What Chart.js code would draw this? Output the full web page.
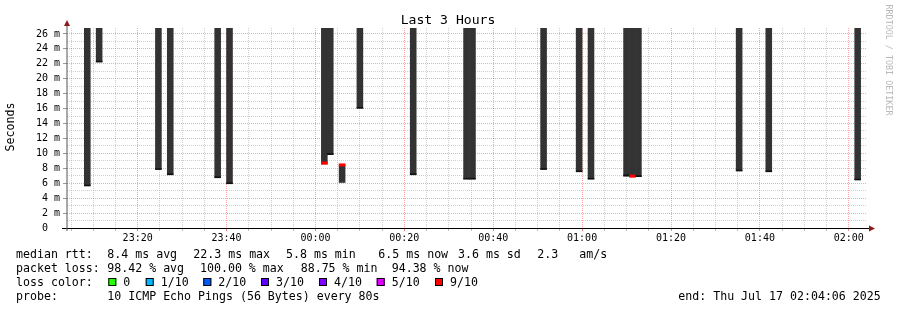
<!DOCTYPE html>
<html>
<head>
<meta charset="utf-8">
<script src="https://cdn.jsdelivr.net/npm/chart.js@4/dist/chart.umd.min.js"></script>
<style>
html,body{margin:0;padding:0;background:#ffffff;}
canvas{display:block;}
</style>
</head>
<body>
<canvas id="c" width="897" height="310" style="width:897px;height:310px"></canvas>
<script>
// ---- data (time in minutes after 23:00, probe step = 80 s) ----
const stepMinutes = 4 / 3;
const startMinute = 4.1;     // 23:04:06
const endMinute = 184.1;     // 02:04:06
const steps     = [6, 8, 18, 20, 28, 30, 46, 47, 49, 52, 61, 70, 71, 83, 89, 91, 97, 98, 99, 116, 121, 136];
const smokeLow  = [5.7, 22.3, 7.9, 7.2, 6.8, 6.0, 8.6, 9.9, 6.1, 16.1, 7.2, 6.6, 6.6, 7.9, 7.6, 6.6, 6.95, 6.95, 6.95, 7.7, 7.6, 6.5];
const smokeHigh = [30, 30, 30, 30, 30, 30, 30, 30, 8.45, 30, 30, 30, 30, 30, 30, 30, 30, 30, 30, 30, 30, 30];
const medianRtt = [5.7, 22.3, 7.9, 7.2, 6.8, 6.0, 8.7, 9.9, 8.45, 16.1, 7.2, 6.6, 6.6, 7.9, 7.6, 6.6, 7.05, 6.95, 6.95, 7.7, 7.6, 6.5];
const lossTenths = [10, 10, 10, 10, 10, 10, 9, 10, 9, 10, 10, 10, 10, 10, 10, 10, 10, 9, 10, 10, 10, 10];
const majorTickMinutes = [20, 40, 60, 80, 100, 120, 140, 160, 180];
const xTickLabels = ['23:20', '23:40', '00:00', '00:20', '00:40', '01:00', '01:20', '01:40', '02:00'];
const yMax = 26.8;
const lossLegendLabels = ['0', '1/10', '2/10', '3/10', '4/10', '5/10', '9/10'];
const lossLegendColors = ['#26ff00', '#00b8ff', '#0059ff', '#5e00ff', '#7e00ff', '#dd00ff', '#ff0000'];

// ---- derived ----
const xGrid = [];
for (let m = 5; m <= 180; m += 5) xGrid.push(m);
const yGrid = [];
for (let v = 0; v <= 26; v++) yGrid.push(v);

const center = k => (k + 0.5) * stepMinutes;
const smokeData = steps.map((k, i) => ({ x: center(k), y: [smokeLow[i], smokeHigh[i]] }));
const medianData = steps.map((k, i) => {
  const h = lossTenths[i] === 9 ? 0.16 : 0.07;
  return { x: center(k), y: [medianRtt[i] - h, medianRtt[i] + h] };
});
const medianColors = lossTenths.map(l => l === 9 ? '#ff0000' : '#111111');

const MONO = "'DejaVu Sans Mono', 'Liberation Mono', monospace";
const RED_GRID = 'rgba(255,0,0,0.36)';
const GRAY_GRID = 'rgba(160,160,160,0.5)';

const overlay = {
  id: 'rrdOverlay',
  afterDraw(chart) {
    const ctx = chart.ctx;
    const a = chart.chartArea;
    ctx.save();
    // axis lines
    ctx.strokeStyle = '#000';
    ctx.lineWidth = 1;
    ctx.beginPath();
    ctx.moveTo(a.left - 5, a.bottom + 0.5);
    ctx.lineTo(a.right + 3, a.bottom + 0.5);
    ctx.stroke();
    ctx.strokeStyle = '#555';
    ctx.beginPath();
    ctx.moveTo(a.left, a.bottom + 3);
    ctx.lineTo(a.left, a.top - 3);
    ctx.stroke();
    // arrows
    ctx.fillStyle = '#8b1a1a';
    ctx.beginPath();
    ctx.moveTo(a.left - 3, a.top - 2);
    ctx.lineTo(a.left + 3, a.top - 2);
    ctx.lineTo(a.left, a.top - 8);
    ctx.closePath();
    ctx.fill();
    ctx.beginPath();
    ctx.moveTo(a.right + 2, a.bottom - 2.5);
    ctx.lineTo(a.right + 2, a.bottom + 3.5);
    ctx.lineTo(a.right + 8, a.bottom + 0.5);
    ctx.closePath();
    ctx.fill();

    // title
    ctx.fillStyle = '#000';
    ctx.font = '13.1px ' + MONO;
    ctx.textAlign = 'center';
    ctx.textBaseline = 'alphabetic';
    ctx.fillText('Last 3 Hours', 448, 24);

    // y axis title
    ctx.save();
    ctx.translate(11, 127);
    ctx.rotate(-Math.PI / 2);
    ctx.font = '11.6px ' + MONO;
    ctx.textAlign = 'center';
    ctx.textBaseline = 'middle';
    ctx.fillText('Seconds', 0, 0);
    ctx.restore();

    // watermark
    ctx.save();
    ctx.translate(888, 60);
    ctx.rotate(Math.PI / 2);
    ctx.font = '8.4px ' + MONO;
    ctx.fillStyle = '#b8b8b8';
    ctx.textAlign = 'center';
    ctx.textBaseline = 'middle';
    ctx.fillText('RRDTOOL / TOBI OETIKER', 0, 0);
    ctx.restore();

    // legend lines
    ctx.font = '11.6px ' + MONO;
    ctx.textAlign = 'left';
    ctx.textBaseline = 'alphabetic';
    ctx.fillStyle = '#000';
    const t = (s, x, y) => ctx.fillText(s, x, y);
    t('median rtt:', 16, 258);
    t('8.4 ms avg', 107.3, 258);
    t('22.3 ms max', 193.3, 258);
    t('5.8 ms min', 286, 258);
    t('6.5 ms now', 378.3, 258);
    t('3.6 ms sd', 458, 258);
    t('2.3', 537.3, 258);
    t('am/s', 579.3, 258);

    t('packet loss:', 16, 272);
    t('98.42 % avg', 107.3, 272);
    t('100.00 % max', 200, 272);
    t('88.75 % min', 300.7, 272);
    t('94.38 % now', 391.7, 272);

    t('loss color:', 16, 286);
    const boxX = [108.3, 145.7, 203.3, 261, 319, 376.7, 435];
    lossLegendLabels.forEach((lab, i) => {
      ctx.fillStyle = lossLegendColors[i];
      ctx.fillRect(boxX[i], 278, 8, 8);
      ctx.strokeStyle = '#000';
      ctx.lineWidth = 1;
      ctx.strokeRect(boxX[i] + 0.5, 278.5, 7, 7);
      ctx.fillStyle = '#000';
      t(lab, boxX[i] + 15, 286);
    });

    t('probe:', 16, 300);
    t('10 ICMP Echo Pings (56 Bytes) every 80s', 107.3, 300);
    t('end: Thu Jul 17 02:04:06 2025', 678.3, 300);
    ctx.restore();
  }
};

new Chart(document.getElementById('c'), {
  type: 'bar',
  data: {
    datasets: [
      {
        label: 'smoke',
        data: smokeData,
        backgroundColor: '#333333',
        borderWidth: 0,
        grouped: false,
        barPercentage: 1,
        categoryPercentage: 1,
        order: 2
      },
      {
        label: 'median',
        data: medianData,
        backgroundColor: medianColors,
        borderWidth: 0,
        grouped: false,
        barPercentage: 1,
        categoryPercentage: 1,
        order: 1
      }
    ]
  },
  options: {
    responsive: false,
    devicePixelRatio: 1,
    animation: false,
    layout: { padding: { left: 0, right: 30, top: 28, bottom: 0 } },
    plugins: { legend: { display: false }, tooltip: { enabled: false }, title: { display: false } },
    scales: {
      x: {
        type: 'linear',
        min: startMinute,
        max: endMinute,
        offset: false,
        afterBuildTicks: s => { s.ticks = xGrid.map(v => ({ value: v })); },
        afterFit: s => { s.height = 82; },
        ticks: {
          autoSkip: false,
          maxRotation: 0,
          minRotation: 0,
          padding: 1,
          color: '#000',
          font: { family: MONO, size: 10 },
          callback: v => {
            const i = majorTickMinutes.indexOf(v);
            return i >= 0 ? xTickLabels[i] : '';
          }
        },
        grid: {
          offset: false,
          lineWidth: 1,
          tickLength: 3,
          color: c => (c.tick && majorTickMinutes.includes(c.tick.value)) ? RED_GRID : GRAY_GRID,
          tickColor: c => (c.tick && majorTickMinutes.includes(c.tick.value)) ? '#e88' : '#bbb'
        },
        border: { display: false, dash: [1, 1] }
      },
      y: {
        type: 'linear',
        min: 0,
        max: yMax,
        afterBuildTicks: s => { s.ticks = yGrid.map(v => ({ value: v })); },
        afterFit: s => { s.width = 67; },
        ticks: {
          autoSkip: false,
          padding: 3,
          color: '#000',
          font: { family: MONO, size: 10 },
          callback: v => v === 0 ? '0  ' : (v % 2 === 0 ? v + ' m' : '')
        },
        grid: {
          lineWidth: 1,
          tickLength: 4,
          color: c => (c.tick && c.tick.value % 2 === 0) ? RED_GRID : GRAY_GRID,
          tickColor: c => (c.tick && c.tick.value % 2 === 0) ? '#999' : 'rgba(0,0,0,0)'
        },
        border: { display: false, dash: [1, 1] }
      }
    }
  },
  plugins: [overlay]
});
</script>
</body>
</html>
